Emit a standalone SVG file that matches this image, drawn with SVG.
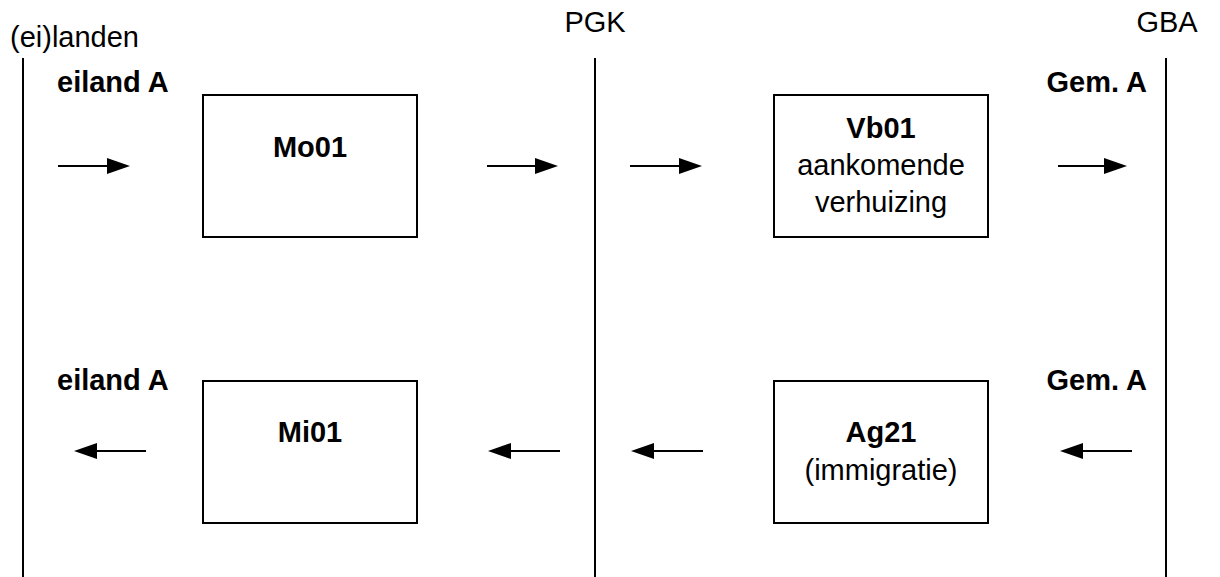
<svg xmlns="http://www.w3.org/2000/svg" width="1220" height="577" viewBox="0 0 1220 577">
<style>
text{font-family:"Liberation Sans",Arial,sans-serif;font-size:29px;fill:#000}
.b{font-weight:bold}
.m{text-anchor:middle}
.e{text-anchor:end}
.box{fill:#fff;stroke:#000;stroke-width:2}
.lane{stroke:#000;stroke-width:2}
.arr{stroke:#000;stroke-width:2;fill:none;marker-end:url(#ah)}
</style>
<defs>
<marker id="ah" markerUnits="userSpaceOnUse" markerWidth="23" markerHeight="16" refX="5" refY="8" orient="auto">
<path d="M0,0 L23,8 L0,16 z" fill="#000"/>
</marker>
</defs>
<rect width="1220" height="577" fill="#fff"/>
<g id="lanes">
<line class="lane" x1="23" y1="58" x2="23" y2="577"/>
<line class="lane" x1="595" y1="58" x2="595" y2="577"/>
<line class="lane" x1="1166" y1="58" x2="1166" y2="577"/>
<text x="10" y="47">(ei)landen</text>
<text class="m" x="595" y="32">PGK</text>
<text class="m" x="1167" y="32">GBA</text>
</g>
<g id="labels">
<text class="b" x="57" y="92">eiland A</text>
<text class="b e" x="1147" y="92">Gem. A</text>
<text class="b" x="57" y="390">eiland A</text>
<text class="b e" x="1147" y="390">Gem. A</text>
</g>
<g id="Mo01">
<rect class="box" x="203" y="95" width="214" height="142"/>
<text class="b m" x="310" y="157">Mo01</text>
</g>
<g id="Vb01">
<rect class="box" x="774" y="95" width="214" height="142"/>
<text class="b m" x="881" y="138">Vb01</text>
<text class="m" x="881" y="175">aankomende</text>
<text class="m" x="881" y="212">verhuizing</text>
</g>
<g id="Mi01">
<rect class="box" x="203" y="381" width="214" height="142"/>
<text class="b m" x="310" y="442">Mi01</text>
</g>
<g id="Ag21">
<rect class="box" x="774" y="381" width="214" height="142"/>
<text class="b m" x="881" y="442">Ag21</text>
<text class="m" x="881" y="480">(immigratie)</text>
</g>
<g id="connectors">
<line class="arr" x1="58" y1="166" x2="112" y2="166"/>
<line class="arr" x1="487" y1="166" x2="540" y2="166"/>
<line class="arr" x1="630" y1="166" x2="684" y2="166"/>
<line class="arr" x1="1058" y1="166" x2="1109" y2="166"/>
<line class="arr" x1="146" y1="451" x2="92" y2="451"/>
<line class="arr" x1="560" y1="451" x2="506" y2="451"/>
<line class="arr" x1="703" y1="451" x2="649" y2="451"/>
<line class="arr" x1="1132" y1="451" x2="1078" y2="451"/>
</g>
</svg>
